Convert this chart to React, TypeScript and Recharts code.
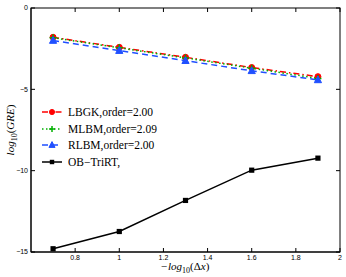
import { LineChart, Line, XAxis, YAxis, Legend } from 'recharts'

const xVals = [0.7, 1.0, 1.3, 1.6, 1.9]
const lbgk = [-1.8, -2.42, -3.03, -3.66, -4.22]
const mlbm = [-1.83, -2.45, -3.07, -3.7, -4.33]
const rlbm = [-2.0, -2.62, -3.24, -3.86, -4.42]
const obTriRT = [-14.8, -13.74, -11.83, -9.97, -9.23]

const xTicks = [0.8, 1, 1.2, 1.4, 1.6, 1.8, 2]
const yTicks = [0, -5, -10, -15]
const xDomain: [number, number] = [0.6, 2]
const yDomain: [number, number] = [-15, 0]

const chartData = xVals.map((x, i) => ({
  x,
  lbgk: lbgk[i],
  mlbm: mlbm[i],
  rlbm: rlbm[i],
  ob: obTriRT[i],
}))

// plot box
const W = 346
const H = 277
const M = { top: 8, right: 6, left: 31, bottom: 25 }
const PW = W - M.left - M.right
const PH = H - M.top - M.bottom

type Shape = 'circle' | 'plus' | 'triangle' | 'square'

function Marker({ cx, cy, shape, color, s = 1 }: { cx: number; cy: number; shape: Shape; color: string; s?: number }) {
  if (cx == null || cy == null) return null
  if (shape === 'circle') return <circle cx={cx} cy={cy} r={3 * s} fill={color} stroke={color} />
  if (shape === 'plus')
    return (
      <path d={`M${cx - 3.5 * s},${cy}H${cx + 3.5 * s}M${cx},${cy - 3.5 * s}V${cy + 3.5 * s}`} stroke={color} strokeWidth={1.5} />
    )
  if (shape === 'triangle')
    return (
      <path
        d={`M${cx},${cy - 4 * s}L${cx + 3.6 * s},${cy + 2.8 * s}L${cx - 3.6 * s},${cy + 2.8 * s}Z`}
        fill={color}
        stroke={color}
      />
    )
  return <rect x={cx - 2.6 * s} y={cy - 2.6 * s} width={5.2 * s} height={5.2 * s} fill={color} />
}

const series = [
  { key: 'lbgk', name: 'LBGK,order=2.00', color: '#ff0000', dash: '6 3 1.5 3', shape: 'circle' as Shape },
  { key: 'mlbm', name: 'MLBM,order=2.09', color: '#00b000', dash: '1.5 2.5', shape: 'plus' as Shape },
  { key: 'rlbm', name: 'RLBM,order=2.00', color: '#2050ff', dash: '6 4', shape: 'triangle' as Shape },
  { key: 'ob', name: 'OB\u2212TriRT,', color: '#000000', dash: undefined, shape: 'square' as Shape },
]

const fmt = (v: number) => String(v).replace('-', '\u2212')

// box frame + inward ticks on top / right, laid over the chart
function FrameOverlay() {
  const px = (v: number) => M.left + ((v - xDomain[0]) / (xDomain[1] - xDomain[0])) * PW
  const py = (v: number) => M.top + ((yDomain[1] - v) / (yDomain[1] - yDomain[0])) * PH
  return (
    <svg width={W} height={H} style={{ position: 'absolute', left: 0, top: 0, pointerEvents: 'none' }}>
      <g stroke="#000" strokeWidth={1} fill="none">
        <rect x={M.left} y={M.top} width={PW} height={PH} />
        {xTicks.map(t => (
          <line key={`tx${t}`} x1={px(t)} x2={px(t)} y1={M.top} y2={M.top + 4} />
        ))}
        {yTicks.map(t => (
          <line key={`ty${t}`} x1={M.left + PW} x2={M.left + PW - 4} y1={py(t)} y2={py(t)} />
        ))}
      </g>
    </svg>
  )
}

function LegendBox() {
  return (
    <div style={{ fontFamily: '"Liberation Serif", serif', fontSize: 11.5, lineHeight: '16.6px' }}>
      {series.map(s => (
        <div key={s.key} style={{ display: 'flex', alignItems: 'center', height: 16.6 }}>
          <svg width={22} height={12} style={{ marginRight: 5 }}>
            <line x1={1} y1={6} x2={21} y2={6} stroke={s.color} strokeWidth={1.5} strokeDasharray={s.dash} />
            <Marker cx={11} cy={6} shape={s.shape} color={s.color} s={0.85} />
          </svg>
          <span>{s.name}</span>
        </div>
      ))}
    </div>
  )
}

function YTitle() {
  return (
    <text
      transform="translate(14,130) rotate(-90)"
      textAnchor="middle"
      fontFamily='"Liberation Serif", serif'
      fontSize={11}
      fill="#000"
    >
      <tspan fontStyle="italic">log</tspan>
      <tspan fontSize={8} dy={3}>10</tspan>
      <tspan dy={-3}>(</tspan>
      <tspan fontStyle="italic">GRE</tspan>
      <tspan>)</tspan>
    </text>
  )
}

function XTitle() {
  return (
    <text x={185} y={270} textAnchor="middle" fontFamily='"Liberation Serif", serif' fontSize={11} fill="#000">
      <tspan fontStyle="italic">{'\u2212log'}</tspan>
      <tspan fontSize={8} dy={3}>10</tspan>
      <tspan dy={-3}>({'\u0394'}</tspan>
      <tspan fontStyle="italic">x</tspan>
      <tspan>)</tspan>
    </text>
  )
}

const tickStyle = { fontSize: 7, fontFamily: '"Liberation Sans", sans-serif', fill: '#000' }

export default function App() {
  return (
    <div style={{ position: 'absolute', left: 0, top: 0, width: W, height: H, background: '#fff' }}>
      <LineChart width={W} height={H} data={chartData} margin={{ top: M.top, right: M.right, left: 0, bottom: 0 }}>
        <XAxis
          dataKey="x"
          type="number"
          domain={xDomain}
          ticks={xTicks}
          allowDataOverflow
          height={M.bottom}
          tickSize={-4}
          tickMargin={7}
          tick={tickStyle}
          stroke="#000"
        />
        <YAxis
          type="number"
          domain={yDomain}
          ticks={yTicks}
          allowDataOverflow
          width={M.left}
          tickSize={-4}
          tickMargin={7}
          tick={tickStyle}
          tickFormatter={fmt}
          stroke="#000"
        />
        {series.map(s => (
          <Line
            key={s.key}
            dataKey={s.key}
            name={s.name}
            stroke={s.color}
            strokeWidth={1.5}
            strokeDasharray={s.dash}
            isAnimationActive={false}
            dot={(p: any) => <Marker key={`${s.key}-${p.index}`} cx={p.cx} cy={p.cy} shape={s.shape} color={s.color} />}
            activeDot={false}
          />
        ))}
        <Legend
          layout="vertical"
          align="center"
          verticalAlign="middle"
          content={() => <LegendBox />}
          wrapperStyle={{ left: 41, top: 104, width: 'auto' }}
        />
        <YTitle />
        <XTitle />
      </LineChart>
      <FrameOverlay />
    </div>
  )
}
